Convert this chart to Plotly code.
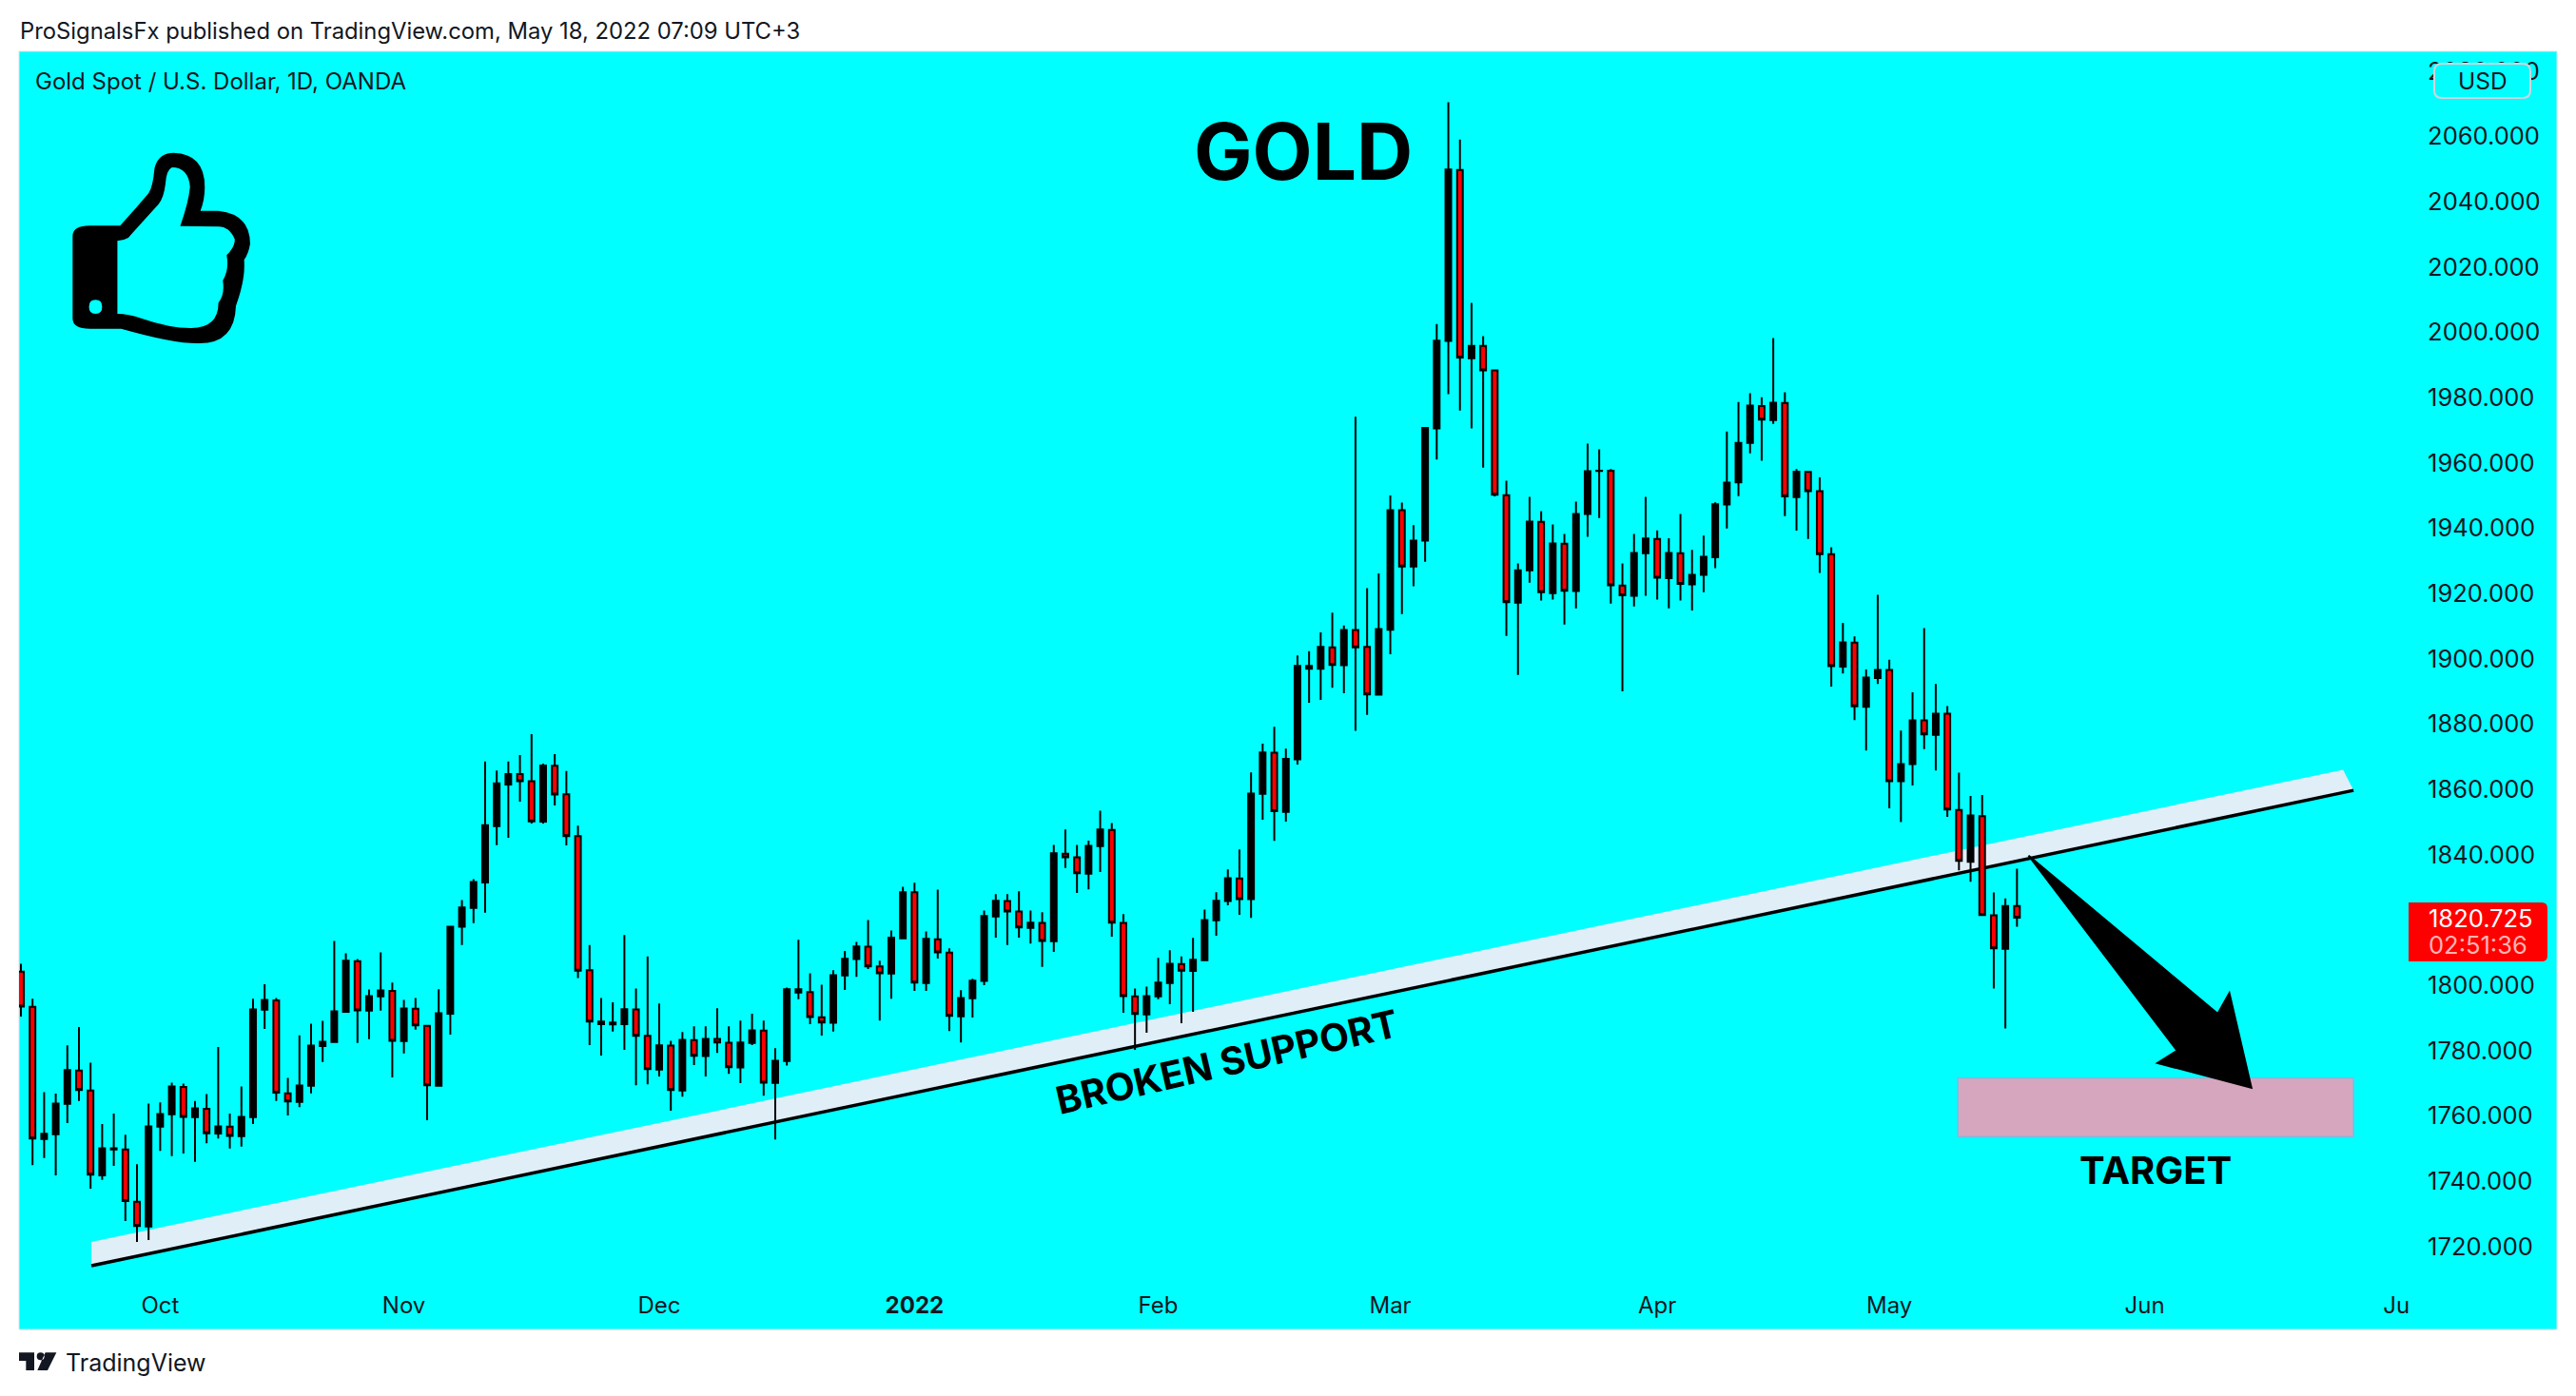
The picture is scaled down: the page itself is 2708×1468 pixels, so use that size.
import re
import plotly.graph_objects as go

opens = [1804.2,1793.4,1752.9,1754.4,1763.7,1773.9,1767.8,1741.8,1749.7,1749.7,
1733.7,1726.1,1756.7,1760.5,1768.9,1759.6,1762.2,1754.6,1756.7,1753.8,
1759.6,1792.5,1795.4,1766.9,1764.3,1769.2,1781.4,1782.6,1791.9,1807.4,
1792.2,1796.6,1798.3,1782.9,1792.8,1787.6,1769.2,1791.3,1817.9,1823.7,
1831.5,1848.7,1861.5,1864.7,1862.5,1850.1,1867.2,1858.5,
1845.7,1804.6,1788.1,1788.0,1788.1,1792.6,1784.5,1774.2,1781.5,1767.8,1783.2,1778.3,1783.6,1782.4,1774.8,1782.3,1786.1,1770.1,1776.8,1797.8,1797.9,1790.2,1788.5,1803.0,1808.0,1811.8,
1805.8,1803.6,1814.4,1828.5,1800.7,1814.1,1810.0,1790.5,1796.0,1801.3,1821.1,1825.8,1822.6,1817.6,1819.1,1813.5,1840.3,1839.2,1834.2,1842.6,1847.6,1819.1,1796.6,1791.1,1796.6,1800.7,
1806.5,1804.4,1807.7,1819.9,1825.8,1832.7,1826.4,1858.6,1871.2,1853.1,1869.2,1896.9,1896.9,1903.5,1898.0,1908.8,1903.6,1889.0,1908.9,1945.5,1928.2,1936.2,1970.5,1997.3,2049.7,1992.0,
1995.8,1988.3,1950.1,1917.2,1927.1,1941.9,1920.1,1935.2,1920.7,1944.3,1957.5,1957.6,1922.4,1919.3,1932.3,1936.7,1924.7,1932.3,1922.8,1925.7,1931.1,1947.2,1954.0,1966.1,1977.4,1973.1,
1978.3,1949.5,1957.2,1951.3,1932.0,1897.6,1904.9,1885.3,1894.1,1896.6,1862.5,1867.7,1881.1,1876.7,1883.2,1853.7,1837.8,1851.8,1821.4,1811.2,1824.3]

highs = [1806.6,1795.9,1767.3,1766.8,1781.6,1787.2,1776.3,1757.5,1760.7,1754.2,
1745.2,1763.8,1764.1,1770.2,1769.9,1764.6,1766.7,1781.1,1760.7,1769.0,
1795.9,1800.3,1796.1,1771.6,1784.7,1788.2,1789.1,1813.6,1809.8,1808.0,
1798.7,1810.1,1800.8,1795.5,1796.1,1787.9,1798.8,1817.9,1826.1,1832.5,
1868.5,1865.8,1868.5,1870.5,1876.9,1867.9,1870.8,1865.6,
1848.9,1812.3,1796.1,1794.8,1815.4,1799.0,1808.8,1794.4,1783.0,1785.7,1787.4,1787.4,1793.0,1787.4,1789.2,1791.3,1789.2,1780.7,1799.3,1813.9,1803.7,1800.2,1804.6,1810.5,1813.3,1820.0,
1807.5,1816.8,1830.2,1831.4,1816.5,1829.3,1811.3,1798.5,1802.0,1822.9,1827.9,1827.9,1828.8,1822.9,1822.4,1843.0,1847.7,1843.0,1844.3,1853.5,1849.7,1821.8,1799.0,1799.6,1808.4,1810.7,
1808.8,1814.5,1823.2,1828.5,1835.5,1841.6,1865.2,1874.0,1879.2,1872.5,1901.0,1902.3,1908.1,1914.1,1910.2,1974.1,1921.6,1926.1,1950.0,1947.8,1940.9,1970.7,2002.5,2070.4,2059.0,2009.0,
1998.8,1988.3,1954.5,1929.2,1949.6,1945.2,1941.1,1938.2,1948.1,1965.9,1964.1,1958.1,1929.2,1938.2,1949.6,1939.3,1936.9,1944.3,1933.3,1937.7,1947.9,1969.6,1978.6,1981.3,1980.1,1998.2,
1981.6,1958.1,1957.3,1955.5,1934.1,1911.0,1906.8,1896.7,1919.6,1899.7,1878.0,1889.7,1909.4,1892.3,1885.5,1865.1,1858.0,1858.3,1828.4,1826.6,1835.7]

lows = [1790.4,1744.9,1747.1,1741.8,1757.8,1764.6,1737.7,1740.4,1744.7,1727.8,
1721.4,1722.0,1749.3,1747.7,1748.5,1745.9,1751.6,1753.1,1750.0,1750.6,
1757.5,1786.6,1764.6,1760.1,1762.7,1766.9,1776.5,1782.6,1791.9,1782.3,
1783.5,1792.2,1771.8,1779.1,1786.4,1758.7,1769.2,1784.9,1812.3,1819.0,
1822.2,1842.9,1845.2,1856.2,1849.5,1849.5,1855.1,1842.8,
1802.2,1781.7,1778.5,1785.8,1780.2,1769.4,1769.7,1772.1,1761.6,1765.9,1775.6,1772.1,1779.3,1772.9,1770.0,1781.7,1766.2,1752.8,1775.4,1795.7,1788.1,1784.6,1785.8,1798.6,1802.6,1805.0,
1789.2,1795.9,1814.4,1798.3,1798.3,1808.2,1786.0,1782.5,1790.1,1800.0,1814.6,1812.3,1814.6,1812.8,1805.6,1810.2,1835.9,1828.3,1829.4,1834.7,1814.9,1791.6,1780.2,1785.5,1795.7,1794.2,
1788.4,1791.9,1807.7,1815.2,1824.5,1821.6,1820.6,1850.7,1844.2,1850.1,1867.6,1886.5,1887.4,1891.1,1889.4,1877.9,1882.8,1889.0,1901.4,1913.7,1922.2,1929.7,1961.0,1981.0,1976.0,1970.5,
1958.5,1949.7,1907.0,1895.0,1923.3,1917.8,1918.1,1910.5,1915.4,1937.3,1943.1,1916.9,1890.0,1916.0,1919.3,1918.1,1915.4,1917.8,1914.8,1920.4,1927.7,1939.9,1949.8,1962.9,1960.6,1971.9,
1943.7,1939.2,1936.7,1926.3,1891.5,1895.5,1881.2,1871.9,1892.3,1854.2,1850.0,1861.2,1872.3,1865.8,1851.6,1835.2,1831.7,1821.5,1799.0,1786.8,1817.9]

closes = [1793.5,1753.1,1754.5,1763.8,1774.0,1767.9,1742.0,1750.1,1750.1,1733.9,
1726.3,1756.8,1760.6,1769.0,1759.7,1762.3,1754.7,1756.8,1753.9,1759.7,
1792.6,1795.5,1767.1,1764.4,1769.3,1781.5,1782.7,1792.0,1807.5,1792.3,
1796.7,1798.4,1783.0,1792.9,1787.7,1769.4,1791.4,1817.9,1823.8,1831.6,
1849.0,1861.8,1864.7,1862.5,1850.2,1867.3,1858.4,1845.7,
1804.5,1788.9,1788.9,1788.6,1792.7,1784.5,1774.3,1781.6,1767.9,1783.3,1778.4,1783.6,1782.5,1774.9,1782.5,1786.2,1770.2,1776.9,1798.8,1798.8,1790.3,1788.6,1803.1,1808.1,1811.9,1805.8,
1803.7,1814.6,1828.5,1800.8,1814.2,1810.1,1790.6,1796.1,1801.4,1821.2,1825.9,1822.6,1817.7,1819.2,1813.6,1840.4,1839.2,1834.3,1842.7,1847.7,1819.2,1796.7,1791.2,1796.7,1800.8,1806.6,
1804.5,1807.8,1820.0,1825.9,1832.8,1826.4,1858.7,1871.3,1853.3,1869.3,1897.8,1897.8,1903.6,1898.1,1908.8,1903.5,1889.1,1909.1,1945.5,1928.2,1936.2,1970.7,1997.4,2049.8,1992.2,1995.8,
1988.3,1950.2,1917.3,1927.1,1942.0,1920.4,1935.3,1920.8,1944.3,1957.4,1957.6,1922.5,1919.4,1932.4,1936.8,1924.8,1932.4,1922.9,1925.7,1931.2,1947.3,1953.9,1966.1,1977.5,1973.2,1978.4,
1949.7,1957.3,1951.3,1932.0,1897.7,1905.0,1885.4,1894.2,1896.6,1862.5,1867.7,1881.1,1876.8,1883.2,1853.8,1838.1,1852.0,1821.5,1811.3,1824.3,1820.725]

sessions = list(range(len(opens)))
month_ticks = [12, 33, 55, 77, 98, 118, 141, 161, 183, 204.7]
month_labels = ["Oct", "Nov", "Dec", "<b>2022</b>", "Feb", "Mar", "Apr", "May", "Jun", "Ju"]
price_ticks = [1720, 1740, 1760, 1780, 1800, 1840, 1860, 1880, 1900, 1920, 1940,
               1960, 1980, 2000, 2020, 2040, 2060, 2080]

W, H = 2708, 1468
L, R, T, B = 20, 2540, 54, 1345
INK = "#131722"
CYAN = "#00FFFF"

def px(x):
    return (x - L) / (R - L)

def py(y):
    return (B - y) / (B - T)

def to_paper(path, fx=1.0, fy=1.0, ox=0.0, oy=0.0):
    nums = iter(re.findall(r"-?\d+\.?\d*|[A-Za-z]", path))
    out, is_x = [], True
    for tok in nums:
        if tok.isalpha():
            out.append(tok)
            is_x = True
        elif is_x:
            out.append(f"{px(ox + float(tok) / fx):.5f}")
            is_x = False
        else:
            out.append(f",{py(oy + float(tok) / fy):.5f}")
            is_x = True
    return " ".join(out)

THUMB = (
    "M133 745 Q133 712 165 712 L220 712 Q250 655 272 610 Q280 590 283 530 Q290 482 318 482 "
    "Q375 485 375 590 Q375 630 367 665 L400 665 Q458 675 458 770 Q455 800 447 820 "
    "Q450 880 432 965 Q430 1083 365 1083 Q320 1085 222 1037 L165 1037 Q133 1037 133 1005 Z "
    "M215 760 L215 990 Q235 990 260 1005 Q310 1035 350 1035 Q400 1035 400 955 Q412 930 408 885 "
    "Q420 850 415 805 Q430 780 430 755 Q420 715 400 715 L330 713 Q345 640 348 590 Q345 528 315 528 "
    "Q305 535 303 580 Q300 625 290 645 Q245 730 235 750 Q225 760 215 760 Z "
    "M163 968 Q163 990 175 990 Q187 990 187 968 Q187 946 175 946 Q163 946 163 968 Z"
)
LOGO = (
    "M60 82 L108 82 L108 138 L82 138 L82 108 L60 108 Z "
    "M116 94 Q116 82 128 82 Q140 82 140 94 Q140 106 128 106 Q116 106 116 94 Z "
    "M143 82 L178 82 L150 138 L118 138 Z"
)
PRICE_TAG = "M2532 949 L2672 949 Q2678 949 2678 955 L2678 1005 Q2678 1011 2672 1011 L2532 1011 Z"
USD_BOX = ("M2567 67 L2652 67 Q2660 67 2660 75 L2660 95 Q2660 103 2652 103 L2567 103 "
           "Q2559 103 2559 95 L2559 75 Q2559 67 2567 67 Z")

fig = go.Figure(go.Candlestick(
    x=sessions, open=opens, high=highs, low=lows, close=closes,
    increasing=dict(line=dict(color="#000000", width=2), fillcolor="#000000"),
    decreasing=dict(line=dict(color="#000000", width=2), fillcolor="#FF0000"),
    hoverinfo="skip", showlegend=False,
))

shapes = [
    dict(type="rect", xref="paper", yref="paper", x0=0, x1=px(2688), y0=py(1398), y1=1,
         fillcolor=CYAN, line=dict(color="#d3e4e8", width=1), layer="below"),
    dict(type="path", xref="x", yref="y", layer="below",
         path="M 6.07,1714.1 L 6.07,1721.4 L 200.1,1866 L 201,1859.7 Z",
         fillcolor="#E0EEF8", line=dict(width=0)),
    dict(type="line", xref="x", yref="y", layer="below", x0=6.07, y0=1714.1, x1=201, y1=1859.7,
         line=dict(color="#000000", width=3.5)),
    dict(type="rect", xref="x", yref="y", layer="below", x0=166.9, x1=201, y0=1753.6, y1=1771.6,
         fillcolor="#D5A6BD", line=dict(color="#78BDE0", width=1.5)),
    dict(type="path", xref="x", yref="y", layer="above",
         path="M 173,1839.7 L 189.3,1791.3 L 190.3,1797.6 L 192.2,1768.6 L 184.1,1776.2 L 185.8,1780 Z",
         fillcolor="#000000", line=dict(color="#000000", width=2)),
    dict(type="path", xref="paper", yref="paper", path=to_paper(THUMB, 1.742, 3),
         fillcolor="#000000", line=dict(width=0)),
    dict(type="path", xref="paper", yref="paper", path=to_paper(LOGO, 3, 3, 0, 1395),
         fillcolor=INK, line=dict(width=0)),
    dict(type="path", xref="paper", yref="paper", path=to_paper(PRICE_TAG),
         fillcolor="#FF0000", line=dict(width=0)),
    dict(type="path", xref="paper", yref="paper", path=to_paper(USD_BOX),
         fillcolor=CYAN, line=dict(color="#D1D4DC", width=2)),
]

def note(text, x, y, size, color=INK, anchor="left", angle=0, family="Inter"):
    return dict(text=text, xref="paper", yref="paper", x=px(x), y=py(y), xanchor=anchor,
                yanchor="middle", showarrow=False, textangle=angle,
                font=dict(family=family, size=size, color=color))

annotations = [
    note("ProSignalsFx published on TradingView.com, May 18, 2022 07:09 UTC+3", 19, 32, 23.8),
    note("Gold Spot / U.S. Dollar, 1D, OANDA", 35, 85, 24),
    note("<b>GOLD</b>", 1370, 160, 82, "#000000", "center"),
    note("<b>BROKEN SUPPORT</b>", 1290, 1116, 40, "#000000", "center", -13),
    note("<b>TARGET</b>", 2266, 1230, 40, "#000000", "center"),
    note("TradingView", 67, 1433, 25),
    note("1820.725", 2551, 965, 25.5, "#FFFFFF"),
    note("02:51:36", 2551, 994, 25.5, "#FFB3B3"),
    note("USD", 2610, 85, 24.5, INK, "center"),
]

fig.update_layout(
    width=W, height=H, margin=dict(l=L, r=W - R, t=T, b=H - B, autoexpand=False),
    paper_bgcolor="#FFFFFF", plot_bgcolor=CYAN, showlegend=False, hovermode=False,
    font=dict(family="Inter", color=INK), shapes=shapes, annotations=annotations,
    xaxis=dict(type="linear", range=[-0.164, 206.4], rangeslider=dict(visible=False),
               tickmode="array", tickvals=month_ticks, ticktext=month_labels,
               showgrid=False, zeroline=False, showline=False, ticks="outside", ticklen=6,
               tickcolor="rgba(0,0,0,0)", tickfont=dict(family="Inter", size=24, color=INK)),
    yaxis=dict(range=[1710.04, 2086.0], side="right", tickmode="array", tickvals=price_ticks,
               tickformat=".3f", showgrid=False, zeroline=False, showline=False,
               ticks="outside", ticklen=6, tickcolor="rgba(0,0,0,0)",
               tickfont=dict(family="Inter", size=25.5, color=INK)),
)

fig.write_html("out.html", config=dict(displayModeBar=False),
               post_script="document.body.style.margin='0';document.body.style.overflow='hidden';")
